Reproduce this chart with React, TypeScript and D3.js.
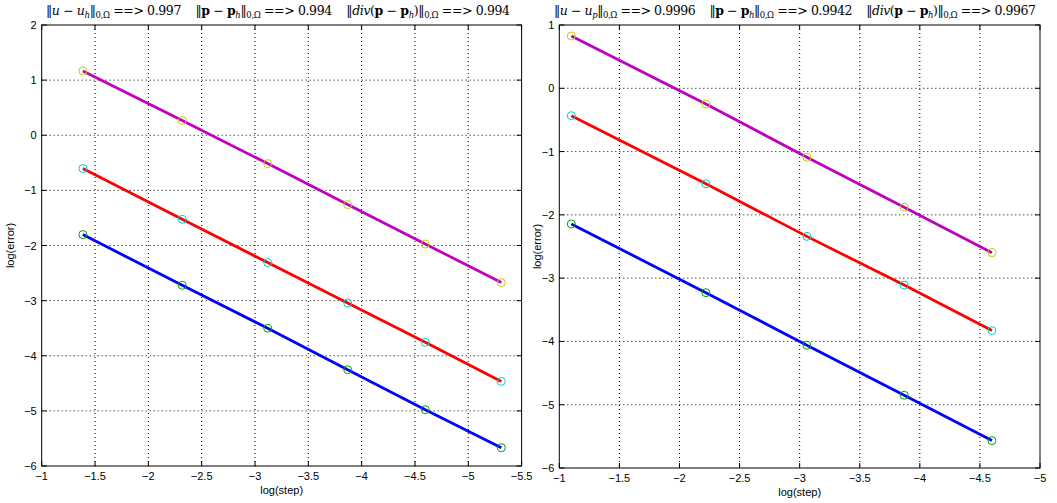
import React from "react";
import * as d3 from "d3";

// ---------- data ----------
const xLeft = [-1.386, -2.318, -3.119, -3.869, -4.597, -5.31];
const magLeft = [1.167, 0.267, -0.514, -1.258, -1.973, -2.673];
const redLeft = [-0.604, -1.525, -2.31, -3.044, -3.757, -4.465];
const blueLeft = [-1.802, -2.722, -3.5, -4.253, -4.979, -5.668];

const xRight = [-1.1, -2.22, -3.06, -3.87, -4.6];
const magRight = [0.826, -0.25, -1.09, -1.88, -2.597];
const redRight = [-0.433, -1.51, -2.34, -3.11, -3.829];
const blueRight = [-2.144, -3.23, -4.06, -4.85, -5.567];

const xTicksLeft = [-1, -1.5, -2, -2.5, -3, -3.5, -4, -4.5, -5, -5.5];
const yTicksLeft = [2, 1, 0, -1, -2, -3, -4, -5, -6];
const xTicksRight = [-1, -1.5, -2, -2.5, -3, -3.5, -4, -4.5, -5];
const yTicksRight = [1, 0, -1, -2, -3, -4, -5, -6];

const ratesLeft = ["0.997", "0.994", "0.994"];
const ratesRight = ["0.9996", "0.9942", "0.9967"];
const subLeft = "h";
const subRight = "p";

const xLabel = "log(step)";
const yLabel = "log(error)";

// ---------- helpers ----------
type Seg = { t: string; s?: "i" | "b" | "n"; sub?: boolean };

function titleSegs(uSub: string, rates: string[]): Seg[] {
  return [
    { t: "‖" },
    { t: "u", s: "i" },
    { t: " − " },
    { t: "u", s: "i" },
    { t: uSub, s: "i", sub: true },
    { t: "‖" },
    { t: "0,Ω", sub: true },
    { t: " ==> " + rates[0] + "    " },
    { t: "‖" },
    { t: "p", s: "b" },
    { t: " − " },
    { t: "p", s: "b" },
    { t: "h", s: "i", sub: true },
    { t: "‖" },
    { t: "0,Ω", sub: true },
    { t: " ==> " + rates[1] + "    " },
    { t: "‖" },
    { t: "div", s: "i" },
    { t: "(" },
    { t: "p", s: "b" },
    { t: " − " },
    { t: "p", s: "b" },
    { t: "h", s: "i", sub: true },
    { t: ")‖" },
    { t: "0,Ω", sub: true },
    { t: " ==> " + rates[2] },
  ];
}

function Title({ x, y, segs, width }: { x: number; y: number; segs: Seg[]; width: number }) {
  let cur = 0;
  return (
    <text
      x={x}
      y={y}
      textAnchor="middle"
      fontFamily="'DejaVu Serif', 'Liberation Serif', serif"
      fontSize={12.5}
      fill="#000"
      textLength={width}
      lengthAdjust="spacing"
      style={{ whiteSpace: "pre" }}
    >
      {segs.map((sg, i) => {
        const target = sg.sub ? 3 : 0;
        const dy = target - cur;
        cur = target;
        return (
          <tspan
            key={i}
            dy={dy}
            fontStyle={sg.s === "i" ? "italic" : "normal"}
            fontWeight={sg.s === "b" ? "bold" : "normal"}
            fontSize={sg.sub ? 8.5 : 12.5}
          >
            {sg.t}
          </tspan>
        );
      })}
    </text>
  );
}

const fmt = (v: number) => {
  const s = String(Math.abs(v));
  return (v < 0 ? "−" : "") + s;
};

type PanelProps = {
  left: number;
  right: number;
  top: number;
  bottom: number;
  xDomain: [number, number];
  yDomain: [number, number];
  xTicks: number[];
  yTicks: number[];
  xs: number[];
  series: { ys: number[]; color: string; marker: string }[];
  title: Seg[];
  titleWidth: number;
  titleX: number;
  yLabelX: number;
};

function Panel(p: PanelProps) {
  const x = d3.scaleLinear().domain(p.xDomain).range([p.left, p.right]);
  const y = d3.scaleLinear().domain(p.yDomain).range([p.bottom, p.top]);
  const line = d3
    .line<number>()
    .x((_, i) => x(p.xs[i]))
    .y((d) => y(d));
  const tickFont = "'Liberation Sans', Arial, sans-serif";
  const tl = 5;
  return (
    <g>
      {/* grid */}
      {p.xTicks.slice(1, -1).map((t) => (
        <line
          key={"gx" + t}
          x1={x(t)}
          x2={x(t)}
          y1={p.top}
          y2={p.bottom}
          stroke="#000"
          strokeWidth={1}
          strokeDasharray="1,3"
        />
      ))}
      {p.yTicks.slice(1, -1).map((t) => (
        <line
          key={"gy" + t}
          x1={p.left}
          x2={p.right}
          y1={y(t)}
          y2={y(t)}
          stroke="#000"
          strokeWidth={1}
          strokeDasharray="1,3"
        />
      ))}
      {/* ticks */}
      {p.xTicks.map((t) => (
        <g key={"tx" + t}>
          <line x1={x(t)} x2={x(t)} y1={p.bottom} y2={p.bottom - tl} stroke="#000" />
          <line x1={x(t)} x2={x(t)} y1={p.top} y2={p.top + tl} stroke="#000" />
          <text
            x={x(t)}
            y={p.bottom + 14}
            textAnchor="middle"
            fontFamily={tickFont}
            fontSize={11}
          >
            {fmt(t)}
          </text>
        </g>
      ))}
      {p.yTicks.map((t) => (
        <g key={"ty" + t}>
          <line x1={p.left} x2={p.left + tl} y1={y(t)} y2={y(t)} stroke="#000" />
          <line x1={p.right} x2={p.right - tl} y1={y(t)} y2={y(t)} stroke="#000" />
          <text
            x={p.left - 5}
            y={y(t) + 4}
            textAnchor="end"
            fontFamily={tickFont}
            fontSize={11}
          >
            {fmt(t)}
          </text>
        </g>
      ))}
      {/* box */}
      <rect
        x={p.left}
        y={p.top}
        width={p.right - p.left}
        height={p.bottom - p.top}
        fill="none"
        stroke="#000"
        strokeWidth={1}
      />
      {/* series */}
      {p.series.map((s, k) => (
        <g key={"s" + k}>
          <path d={line(s.ys) || ""} fill="none" stroke={s.color} strokeWidth={2.8} />
          {s.ys.map((v, i) => (
            <circle
              key={i}
              cx={x(p.xs[i])}
              cy={y(v)}
              r={4}
              fill="none"
              stroke={s.marker}
              strokeWidth={1}
            />
          ))}
        </g>
      ))}
      {/* labels */}
      <text
        x={(p.left + p.right) / 2}
        y={p.bottom + 28}
        textAnchor="middle"
        fontFamily={tickFont}
        fontSize={11}
      >
        {xLabel}
      </text>
      <text
        transform={`translate(${p.yLabelX},${(p.top + p.bottom) / 2}) rotate(-90)`}
        textAnchor="middle"
        fontFamily={tickFont}
        fontSize={11}
      >
        {yLabel}
      </text>
      <Title x={p.titleX} y={p.top - 10} segs={p.title} width={p.titleWidth} />
    </g>
  );
}

const MAG = "#bf00bf";
const RED = "#ff0000";
const BLUE = "#0000ff";
const YEL = "#c8c800";
const CYA = "#00cccc";
const GRN = "#00a000";

export default function App() {
  return (
    <svg
      width={1057}
      height={503}
      style={{ position: "absolute", left: 0, top: 0, background: "#fff" }}
    >
      <rect width={1057} height={503} fill="#fff" />
      <Panel
        left={41.7}
        right={521.6}
        top={25}
        bottom={466}
        xDomain={[-1, -5.5]}
        yDomain={[-6, 2]}
        xTicks={xTicksLeft}
        yTicks={yTicksLeft}
        xs={xLeft}
        series={[
          { ys: magLeft, color: MAG, marker: YEL },
          { ys: redLeft, color: RED, marker: CYA },
          { ys: blueLeft, color: BLUE, marker: GRN },
        ]}
        title={titleSegs(subLeft, ratesLeft)}
        titleWidth={464}
        titleX={278}
        yLabelX={14}
      />
      <Panel
        left={559.3}
        right={1040}
        top={25}
        bottom={468}
        xDomain={[-1, -5]}
        yDomain={[-6, 1]}
        xTicks={xTicksRight}
        yTicks={yTicksRight}
        xs={xRight}
        series={[
          { ys: magRight, color: MAG, marker: YEL },
          { ys: redRight, color: RED, marker: CYA },
          { ys: blueRight, color: BLUE, marker: GRN },
        ]}
        title={titleSegs(subRight, ratesRight)}
        titleWidth={482}
        titleX={795}
        yLabelX={541}
      />
    </svg>
  );
}
